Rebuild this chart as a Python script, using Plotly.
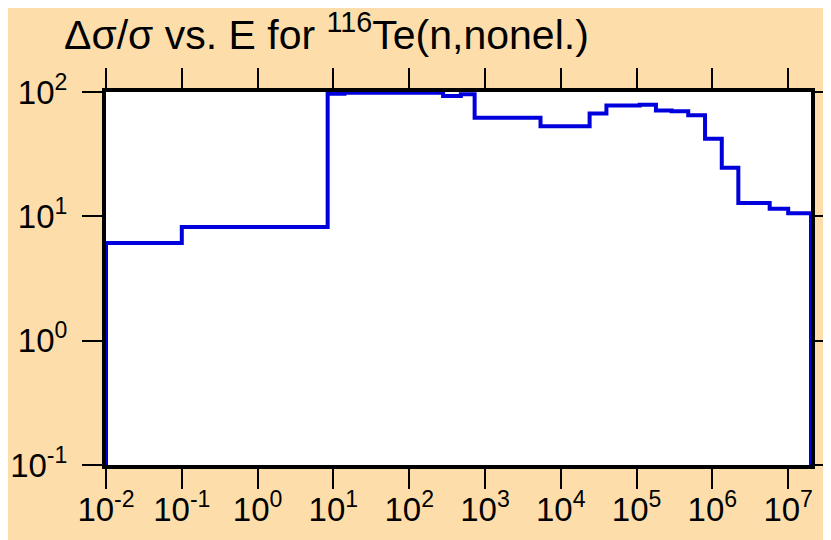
import plotly.graph_objects as go

# group boundaries (eV) and relative uncertainty (%) in each group
energy_edges = [1e-2, 0.1, 8.4, 14, 280, 480, 730, 5400, 24000, 40000,
                1.1e5, 1.8e5, 2.9e5, 4.8e5, 8.0e5, 1.33e6, 2.2e6, 5.7e6, 1.0e7, 2e7]
rel_unc = [6.1, 8.2, 97, 98.5, 93, 96, 62, 53, 67, 78,
           79, 71, 70, 65, 42, 24.6, 12.8, 11.5, 10.6]
floor = 0.05  # below the axis, so the outline drops to the frame

x_tickvals = [1e-2, 1e-1, 1, 10, 1e2, 1e3, 1e4, 1e5, 1e6, 1e7]
x_ticktext = ["10<sup>-2</sup>", "10<sup>-1</sup>", "10<sup>0</sup>", "10<sup>1</sup>",
              "10<sup>2</sup>", "10<sup>3</sup>", "10<sup>4</sup>", "10<sup>5</sup>",
              "10<sup>6</sup>", "10<sup>7</sup>"]
y_tickvals = [0.1, 1, 10, 100]
y_ticktext = ["10<sup>-1</sup>", "10<sup>0</sup>", "10<sup>1</sup>", "10<sup>2</sup>"]
x_range = [-2, 7.301]

xs = [energy_edges[0]] + energy_edges
ys = [floor] + rel_unc + [floor]

fig = go.Figure(go.Scatter(
    x=xs, y=ys, mode="lines",
    line=dict(color="#0000dd", width=4, shape="hv"),
    hoverinfo="skip",
))

tick_style = dict(ticks="outside", ticklen=20, tickwidth=2, tickcolor="black",
                  showgrid=False, zeroline=False, automargin=False)
font = dict(family="Liberation Sans, Arial", size=33, color="black")

fig.update_xaxes(type="log", range=x_range, tickvals=x_tickvals, ticktext=x_ticktext,
                 showline=True, linecolor="black", linewidth=4, mirror="ticks",
                 tickfont=font, ticklabelstandoff=-8, **tick_style)
fig.update_yaxes(type="log", range=[-1, 2], tickvals=y_tickvals, ticktext=y_ticktext,
                 showline=True, linecolor="black", linewidth=4, mirror="ticks",
                 layer="below traces", tickfont=font, ticklabelstandoff=8, **tick_style)

fig.update_layout(
    width=823, height=532,
    paper_bgcolor="#fddeab", plot_bgcolor="white",
    margin=dict(l=98, r=20, t=84, b=75, autoexpand=False),
    showlegend=False,
    title=dict(
        text="\u0394\u03c3/\u03c3 vs. E for <sup>116</sup>Te(n,nonel.)",
        x=56 / 823, xanchor="left", xref="container",
        y=1 - 27 / 532, yanchor="middle", yref="container",
        font=dict(family="Liberation Sans, Arial", size=41, color="black"),
    ),
)

fig.write_html("out.html")
